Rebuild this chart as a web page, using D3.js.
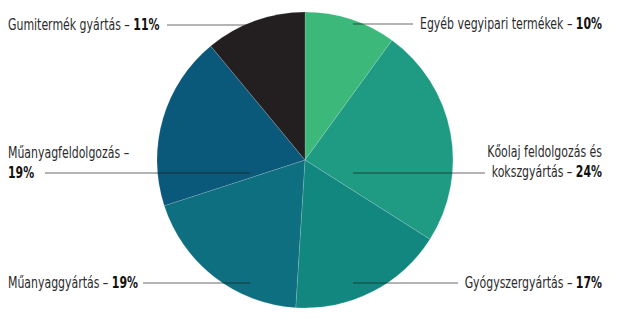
<!DOCTYPE html>
<html>
<head>
<meta charset="utf-8">
<script src="https://cdn.jsdelivr.net/npm/d3@7"></script>
<style>
  body { margin: 0; background: #fff; }
  text { font-family: "DejaVu Sans Condensed", "Liberation Sans Narrow", sans-serif; font-size: 16px; fill: #2b2b2b; }
  .pct { font-weight: bold; fill: #111; }
</style>
</head>
<body>
<svg></svg>
<script>
var categories = ["Egyéb vegyipari termékek", "Kőolaj feldolgozás és kokszgyártás", "Gyógyszergyártás", "Műanyaggyártás", "Műanyagfeldolgozás", "Gumitermék gyártás"];
var values = [10, 24, 17, 19, 19, 11];
var colors = ["#3cb87b", "#1f9b83", "#12877f", "#0d6f7f", "#0a587a", "#231f20"];

// label text lines
var labelLines = [
  [["Egyéb vegyipari termékek – ", "10%"]],
  [["Kőolaj feldolgozás és", ""], ["kokszgyártás – ", "24%"]],
  [["Gyógyszergyártás – ", "17%"]],
  [["Műanyaggyártás – ", "19%"]],
  [["Műanyagfeldolgozás –", ""], ["", "19%"]],
  [["Gumitermék gyártás – ", "11%"]]
];
var labelPos = [
  {x: 602, y: 29, anchor: "end", lineY: 24, x1: 353, x2: 413},
  {x: 602, y: 157, anchor: "end", lineY: 173, x1: 353, x2: 485},
  {x: 602, y: 288, anchor: "end", lineY: 283, x1: 353, x2: 458},
  {x: 8, y: 288, anchor: "start", lineY: 283, x1: 143, x2: 250},
  {x: 8, y: 158, anchor: "start", lineY: 173, x1: 45, x2: 250},
  {x: 8, y: 30, anchor: "start", lineY: 25, x1: 167, x2: 250}
];

var width = 627, height = 324,
    cx = 305, cy = 160, radius = 148,
    squeeze = 0.76;

var svg = d3.select("svg")
  .attr("width", width)
  .attr("height", height);

var pie = d3.pie().sort(null).value(function(d) { return d; });
var arc = d3.arc().innerRadius(0).outerRadius(radius);

var g = svg.append("g").attr("transform", "translate(" + cx + "," + cy + ")");

g.selectAll("path")
  .data(pie(values))
  .enter().append("path")
  .attr("d", arc)
  .attr("fill", function(d, i) { return colors[i]; })
  .attr("stroke", "#fff")
  .attr("stroke-opacity", 0.25)
  .attr("stroke-width", 0.6);

// leader lines
svg.selectAll("line.leader")
  .data(labelPos)
  .enter().append("line")
  .attr("class", "leader")
  .attr("x1", function(d) { return d.x1; })
  .attr("x2", function(d) { return d.x2; })
  .attr("y1", function(d) { return d.lineY; })
  .attr("y2", function(d) { return d.lineY; })
  .attr("stroke", "#1a1a1a")
  .attr("stroke-opacity", 0.65)
  .attr("stroke-width", 1.1);

// labels (condensed horizontally to mimic the narrow face)
labelPos.forEach(function(p, i) {
  labelLines[i].forEach(function(line, j) {
    var t = svg.append("g")
      .attr("transform", "translate(" + p.x + "," + (p.y + j * 20) + ") scale(" + squeeze + ",1)")
      .append("text")
      .attr("text-anchor", p.anchor);
    if (line[0]) t.append("tspan").text(line[0]);
    if (line[1]) t.append("tspan").attr("class", "pct").text(line[1]);
  });
});
</script>
</body>
</html>
